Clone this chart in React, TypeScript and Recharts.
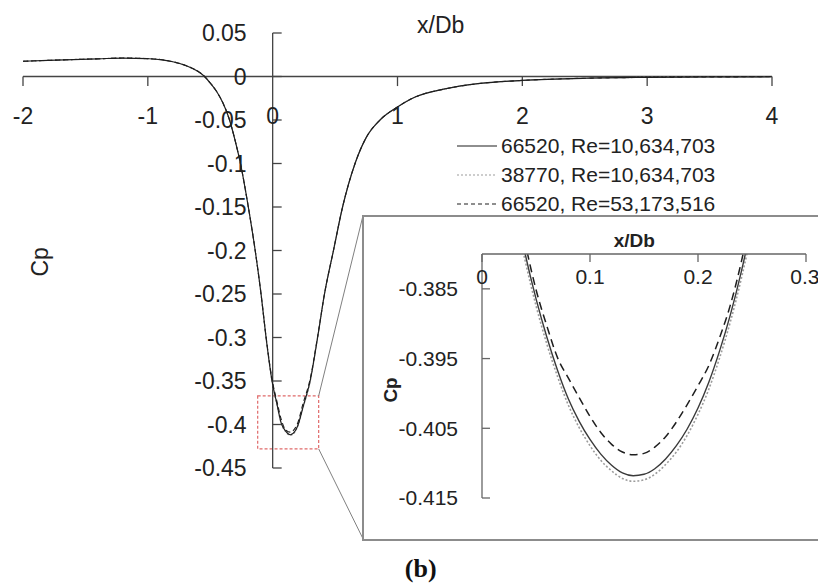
import React from 'react';
import {
  LineChart,
  Line,
  XAxis,
  YAxis,
  ReferenceLine,
  ReferenceDot,
  ReferenceArea,
  Legend,
} from 'recharts';

// ---------- data ----------
const seriesNames = [
  '66520, Re=10,634,703',
  '38770, Re=10,634,703',
  '66520, Re=53,173,516',
];

const mainX = [
  -2, -1.8, -1.6, -1.4, -1.2, -1.0, -0.9, -0.8, -0.7, -0.6, -0.55, -0.5, -0.45, -0.4, -0.35, -0.3,
  -0.258, -0.195, -0.14, -0.093, -0.053, -0.005, 0.035, 0.07, 0.1, 0.14, 0.18, 0.2, 0.243, 0.3,
  0.36, 0.415, 0.487, 0.56, 0.66, 0.75, 0.86, 1.0, 1.12, 1.39, 1.66, 2.0, 2.5, 3.0, 3.5, 4.0,
];
const mainCp66520Re10 = [
  0.0175, 0.0185, 0.0195, 0.0203, 0.0212, 0.0205, 0.0195, 0.017, 0.0128, 0.006, 0.0006, -0.0075,
  -0.017, -0.03, -0.048, -0.074, -0.1, -0.15, -0.2, -0.25, -0.3, -0.35, -0.377, -0.399, -0.4068,
  -0.4118, -0.4075, -0.4018, -0.38, -0.35, -0.3, -0.25, -0.2, -0.15, -0.1, -0.07, -0.05, -0.035,
  -0.025, -0.014, -0.008, -0.0045, -0.002, -0.001, -0.0005, -0.0003,
];
const mainCp38770Re10 = [
  0.0175, 0.0185, 0.0195, 0.0203, 0.0212, 0.0205, 0.0195, 0.017, 0.0128, 0.006, 0.0006, -0.0075,
  -0.017, -0.03, -0.048, -0.074, -0.1, -0.15, -0.2, -0.25, -0.3, -0.351, -0.378, -0.3998, -0.4076,
  -0.4126, -0.4083, -0.4026, -0.381, -0.351, -0.3, -0.25, -0.2, -0.15, -0.1, -0.07, -0.05, -0.035,
  -0.025, -0.014, -0.008, -0.0045, -0.002, -0.001, -0.0005, -0.0003,
];
const mainCp66520Re53 = [
  0.0175, 0.0185, 0.0195, 0.0203, 0.0212, 0.0205, 0.0195, 0.017, 0.0128, 0.006, 0.0006, -0.0075,
  -0.017, -0.03, -0.048, -0.074, -0.1, -0.15, -0.2, -0.25, -0.299, -0.348, -0.374, -0.3948, -0.4053,
  -0.4088, -0.4042, -0.3985, -0.376, -0.348, -0.299, -0.25, -0.2, -0.15, -0.1, -0.07, -0.05, -0.035,
  -0.025, -0.014, -0.008, -0.0045, -0.002, -0.001, -0.0005, -0.0003,
];

const insetX = [
  0.03, 0.04, 0.05, 0.06, 0.07, 0.08, 0.09, 0.1, 0.11, 0.12, 0.13, 0.14, 0.15, 0.16, 0.17, 0.18,
  0.19, 0.2, 0.21, 0.22, 0.23, 0.24, 0.25, 0.26,
];
const insetCp66520Re10 = [
  -0.3724, -0.38, -0.3864, -0.3919, -0.3967, -0.4008, -0.404, -0.4066, -0.4087, -0.4103, -0.4114,
  -0.4118, -0.4116, -0.4108, -0.4094, -0.4075, -0.4051, -0.4021, -0.3984, -0.3939, -0.3887,
  -0.3826, -0.3755, -0.3675,
];
const insetCp38770Re10 = [
  -0.3735, -0.381, -0.3874, -0.3929, -0.3976, -0.4017, -0.4049, -0.4075, -0.4096, -0.4111, -0.4122,
  -0.4126, -0.4124, -0.4116, -0.4102, -0.4084, -0.406, -0.403, -0.3994, -0.3949, -0.3897, -0.3836,
  -0.3765, -0.3685,
];
const insetCp66520Re53 = [
  -0.3705, -0.3784, -0.3851, -0.3903, -0.3949, -0.3978, -0.4006, -0.4033, -0.4056, -0.4073,
  -0.4084, -0.4088, -0.4086, -0.4077, -0.4062, -0.4041, -0.4016, -0.3989, -0.396, -0.392, -0.3873,
  -0.3812, -0.3738, -0.3655,
];

const mainXTicks = [-2, -1, 0, 1, 2, 3, 4];
const mainYTicks = [0.05, 0, -0.05, -0.1, -0.15, -0.2, -0.25, -0.3, -0.35, -0.4, -0.45];
const insetXTicks = [0, 0.1, 0.2, 0.3];
const insetYTicks = [-0.385, -0.395, -0.405, -0.415];

// zoom window drawn on the main chart (data coordinates)
const zoomWindow = { x1: -0.12, x2: 0.3685, y1: -0.428, y2: -0.3672 };
// inset frame corners expressed in main-chart data coordinates
const insetCornerX = 0.721;
const insetTopY = -0.1615;
const insetBottomY = -0.5305;

// ---------- styles ----------
const FONT = '"Liberation Sans", Arial, sans-serif';
const SERIES_STYLE = [
  { stroke: '#1e1e1e', dash: undefined as string | undefined, legendDash: undefined as string | undefined },
  { stroke: '#9c9c9c', dash: '2 2', legendDash: '2 2' },
  { stroke: '#1e1e1e', dash: '8 5', legendDash: '4 3' },
];
const AXIS = '#444';

const mainData = mainX.map((x, i) => ({
  x,
  s0: mainCp66520Re10[i],
  s1: mainCp38770Re10[i],
  s2: mainCp66520Re53[i],
}));
const insetData = insetX.map((x, i) => ({
  x,
  s0: insetCp66520Re10[i],
  s1: insetCp38770Re10[i],
  s2: insetCp66520Re53[i],
}));

const LegendBox = () => (
  <div style={{ fontFamily: FONT, fontSize: 21, color: '#222' }}>
    {seriesNames.map((name, i) => (
      <div key={name} style={{ display: 'flex', alignItems: 'center', height: 29 }}>
        <svg width={44} height={10}>
          <line
            x1={0}
            y1={5}
            x2={40}
            y2={5}
            stroke={SERIES_STYLE[i].stroke}
            strokeWidth={1.2}
            strokeDasharray={SERIES_STYLE[i].legendDash}
          />
        </svg>
        <span style={{ whiteSpace: 'nowrap' }}>{name}</span>
      </div>
    ))}
  </div>
);

const hiddenDot = { r: 0, fill: 'none', stroke: 'none', ifOverflow: 'visible' as const };

export default function App() {
  return (
    <div
      style={{
        position: 'absolute',
        left: 0,
        top: 0,
        width: 818,
        height: 584,
        overflow: 'hidden',
        background: '#fff',
        fontFamily: FONT,
      }}
    >
      {/* main chart */}
      <div style={{ position: 'absolute', left: 0, top: 0 }}>
        <LineChart
          width={818}
          height={584}
          data={mainData}
          margin={{ top: 33, right: 46, bottom: 116, left: 23 }}
        >
          <XAxis type="number" dataKey="x" domain={[-2, 4]} hide allowDataOverflow />
          <YAxis type="number" domain={[-0.45, 0.05]} hide allowDataOverflow />

          {/* axes crossing at the origin */}
          <ReferenceLine
            segment={[{ x: -2, y: 0 }, { x: 4, y: 0 }]}
            stroke={AXIS}
            strokeWidth={1.3}
            ifOverflow="visible"
          />
          <ReferenceLine
            segment={[{ x: 0, y: 0.05 }, { x: 0, y: -0.45 }]}
            stroke={AXIS}
            strokeWidth={1.3}
            ifOverflow="visible"
          />
          {mainXTicks
            .filter((t) => t !== 0)
            .map((t) => (
              <ReferenceLine
                key={'xt' + t}
                segment={[{ x: t, y: 0 }, { x: t, y: -0.011 }]}
                stroke={AXIS}
                strokeWidth={1.3}
                ifOverflow="visible"
              />
            ))}
          {mainYTicks.map((v) => (
            <ReferenceLine
              key={'yt' + v}
              segment={[{ x: 0, y: v }, { x: 0.072, y: v }]}
              stroke={AXIS}
              strokeWidth={1.3}
              ifOverflow="visible"
            />
          ))}
          {mainXTicks.map((t) => (
            <ReferenceDot
              key={'xl' + t}
              x={t}
              y={0}
              {...hiddenDot}
              label={{ value: String(t), position: 'bottom', offset: 31, fontSize: 23, fill: '#222' }}
            />
          ))}
          {mainYTicks.map((v) => (
            <ReferenceDot
              key={'yl' + v}
              x={0}
              y={v}
              {...hiddenDot}
              label={{ value: String(v), position: 'left', offset: 26, fontSize: 23, fill: '#222' }}
            />
          ))}
          <ReferenceDot
            x={1.346}
            y={0.0592}
            {...hiddenDot}
            label={{ value: 'x/Db', position: 'center', fontSize: 23, fill: '#222' }}
          />
          <ReferenceDot
            x={-1.867}
            y={-0.213}
            {...hiddenDot}
            label={{ value: 'Cp', position: 'center', angle: -90, fontSize: 23, fill: '#222' }}
          />

          {/* zoom window and connectors */}
          <ReferenceArea
            x1={zoomWindow.x1}
            x2={zoomWindow.x2}
            y1={zoomWindow.y1}
            y2={zoomWindow.y2}
            fill="none"
            fillOpacity={0}
            stroke="#e06a6a"
            strokeDasharray="3 2"
            strokeWidth={1.2}
            ifOverflow="visible"
          />
          <ReferenceLine
            segment={[{ x: zoomWindow.x2, y: zoomWindow.y2 }, { x: insetCornerX, y: insetTopY }]}
            stroke="#808080"
            strokeWidth={1}
            ifOverflow="visible"
          />
          <ReferenceLine
            segment={[{ x: zoomWindow.x2, y: zoomWindow.y1 }, { x: insetCornerX, y: insetBottomY }]}
            stroke="#808080"
            strokeWidth={1}
            ifOverflow="visible"
          />

          <Line
            type="monotone"
            dataKey="s1"
            name={seriesNames[1]}
            stroke={SERIES_STYLE[1].stroke}
            strokeDasharray={SERIES_STYLE[1].dash}
            strokeWidth={1.2}
            dot={false}
            isAnimationActive={false}
          />
          <Line
            type="monotone"
            dataKey="s2"
            name={seriesNames[2]}
            stroke={SERIES_STYLE[2].stroke}
            strokeDasharray="5 3"
            strokeWidth={1.1}
            dot={false}
            isAnimationActive={false}
          />
          <Line
            type="monotone"
            dataKey="s0"
            name={seriesNames[0]}
            stroke={SERIES_STYLE[0].stroke}
            strokeWidth={1.2}
            dot={false}
            isAnimationActive={false}
          />

          <ReferenceDot
            x={1.186}
            y={-0.565}
            {...hiddenDot}
            label={{
              value: '(b)',
              position: 'center',
              fontSize: 26,
              fontWeight: 'bold',
              fill: '#111',
              fontFamily: '"Liberation Serif", "Times New Roman", serif',
            }}
          />

          <Legend
            layout="vertical"
            align="center"
            verticalAlign="middle"
            wrapperStyle={{ left: 457, top: 131, width: 320 }}
            content={() => <LegendBox />}
          />
        </LineChart>
      </div>

      {/* inset frame */}
      <div
        style={{
          position: 'absolute',
          left: 362,
          top: 215,
          width: 460,
          height: 322,
          borderLeft: '2px solid #8c8c8c',
          borderTop: '2px solid #8c8c8c',
          borderBottom: '2px solid #8c8c8c',
          background: '#fff',
        }}
      />

      {/* inset chart */}
      <div style={{ position: 'absolute', left: 363, top: 216 }}>
        <LineChart
          width={455}
          height={322}
          data={insetData}
          margin={{ top: 38, right: 12, bottom: 40, left: 39 }}
        >
          <XAxis
            type="number"
            dataKey="x"
            domain={[0, 0.3]}
            ticks={insetXTicks}
            orientation="top"
            mirror
            tickSize={8}
            tickMargin={7}
            axisLine={{ stroke: '#666', strokeWidth: 1.3 }}
            tickLine={{ stroke: '#666', strokeWidth: 1.3 }}
            tick={{ fontSize: 21, fill: '#222' }}
            allowDataOverflow
          />
          <YAxis
            type="number"
            domain={[-0.415, -0.38]}
            ticks={insetYTicks}
            width={80}
            tickSize={0}
            tickMargin={24}
            tickLine={false}
            axisLine={{ stroke: '#666', strokeWidth: 1.3 }}
            tick={{ fontSize: 21, fill: '#222' }}
            allowDataOverflow
          />
          {insetYTicks.map((v) => (
            <ReferenceLine
              key={'iyt' + v}
              segment={[{ x: 0, y: v }, { x: 0.0074, y: v }]}
              stroke="#666"
              strokeWidth={1.3}
              ifOverflow="visible"
            />
          ))}
          <ReferenceDot
            x={0.141}
            y={-0.378}
            {...hiddenDot}
            label={{ value: 'x/Db', position: 'center', fontSize: 19, fontWeight: 'bold', fill: '#222' }}
          />
          <ReferenceDot
            x={-0.0848}
            y={-0.3995}
            {...hiddenDot}
            label={{ value: 'Cp', position: 'center', angle: -90, fontSize: 19, fontWeight: 'bold', fill: '#222' }}
          />
          <Line
            type="monotone"
            dataKey="s1"
            name={seriesNames[1]}
            stroke={SERIES_STYLE[1].stroke}
            strokeDasharray={SERIES_STYLE[1].dash}
            strokeWidth={1.6}
            dot={false}
            isAnimationActive={false}
          />
          <Line
            type="monotone"
            dataKey="s0"
            name={seriesNames[0]}
            stroke="#3a3a3a"
            strokeWidth={1.4}
            dot={false}
            isAnimationActive={false}
          />
          <Line
            type="monotone"
            dataKey="s2"
            name={seriesNames[2]}
            stroke={SERIES_STYLE[2].stroke}
            strokeDasharray={SERIES_STYLE[2].dash}
            strokeWidth={1.5}
            dot={false}
            isAnimationActive={false}
          />
        </LineChart>
      </div>
    </div>
  );
}
